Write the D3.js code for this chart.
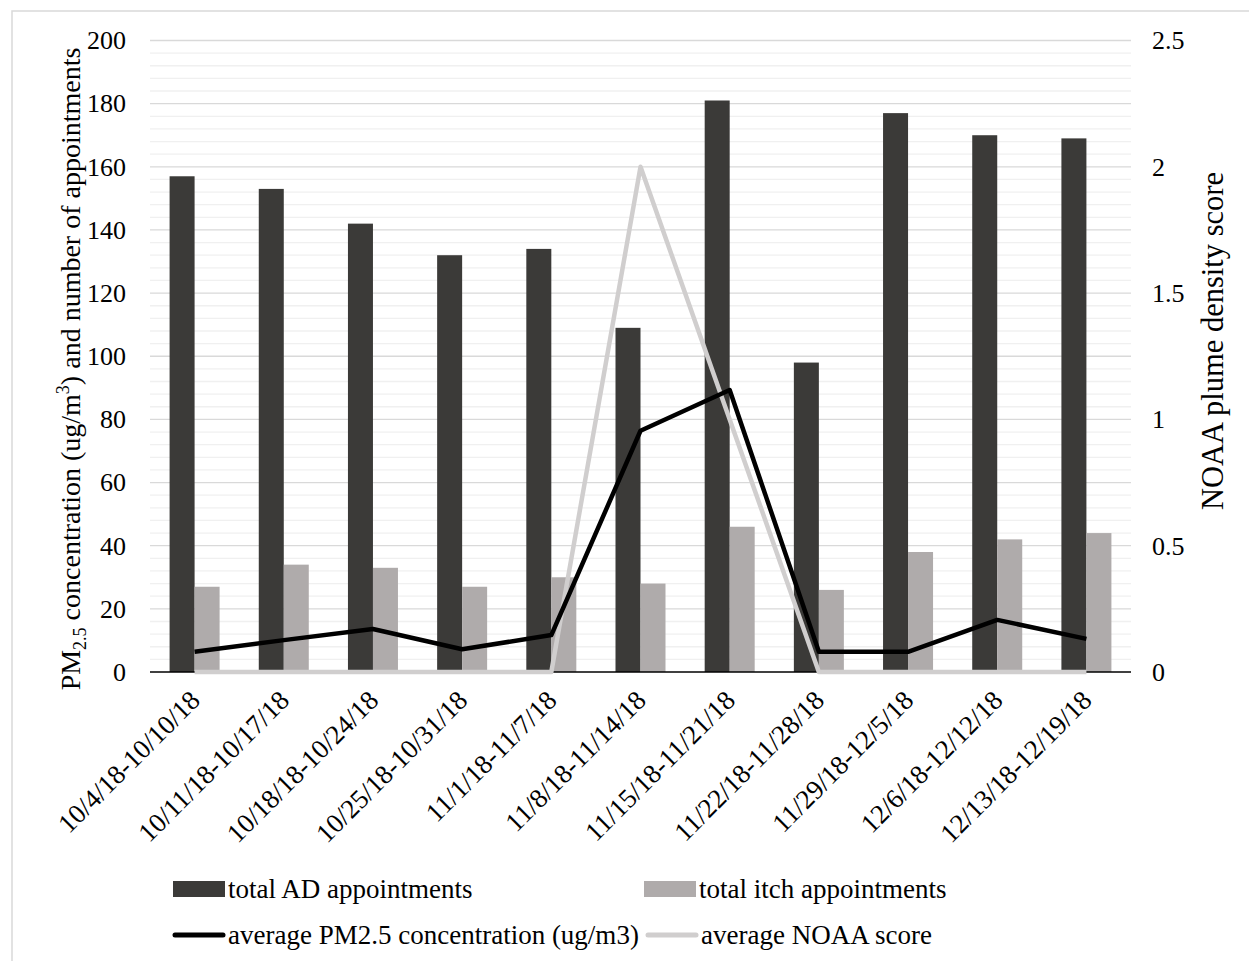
<!DOCTYPE html>
<html>
<head>
<meta charset="utf-8">
<script src="https://cdn.jsdelivr.net/npm/d3@7"></script>
<style>
  html, body { margin: 0; padding: 0; background: #fff; }
  svg { display: block; font-family: "Liberation Serif", "Times New Roman", serif; }
</style>
</head>
<body>
<svg id="chart" width="1249" height="961"></svg>
<script>
// Weekly periods, autumn 2018
const weeks = [
  "10/4/18-10/10/18", "10/11/18-10/17/18", "10/18/18-10/24/18", "10/25/18-10/31/18",
  "11/1/18-11/7/18", "11/8/18-11/14/18", "11/15/18-11/21/18", "11/22/18-11/28/18",
  "11/29/18-12/5/18", "12/6/18-12/12/18", "12/13/18-12/19/18"
];
const adAppointments   = [157, 153, 142, 132, 134, 109, 181, 98, 177, 170, 169];
const itchAppointments = [27, 34, 33, 27, 30, 28, 46, 26, 38, 42, 44];
const pm25             = [6.4, 10.1, 13.6, 7.2, 11.7, 76.4, 89.3, 6.4, 6.4, 16.5, 10.5];
const noaaScore        = [0, 0, 0, 0, 0, 2, 1, 0, 0, 0, 0];

const leftTicks  = [0, 20, 40, 60, 80, 100, 120, 140, 160, 180, 200];
const rightTicks = [0, 0.5, 1, 1.5, 2, 2.5];

const svg = d3.select("#chart");
const plot = { left: 150, right: 1131, top: 40.5, bottom: 672 };

const x = d3.scaleBand().domain(weeks).range([plot.left, plot.right]).padding(0);
const yL = d3.scaleLinear().domain([0, 200]).range([plot.bottom, plot.top]);
const yR = d3.scaleLinear().domain([0, 2.5]).range([plot.bottom, plot.top]);
const cx = d => x(d) + x.bandwidth() / 2;
const barW = 25;

// outer frame
svg.append("path")
  .attr("d", `M12,975 L12,11 L1260,11`)
  .attr("fill", "none").attr("stroke", "#d9d9d9").attr("stroke-width", 1.5);

// gridlines: minor every 4, major every 20
const minor = d3.range(4, 200, 4).filter(v => v % 20 !== 0);
svg.append("g").selectAll("line").data(minor).join("line")
  .attr("x1", plot.left).attr("x2", plot.right)
  .attr("y1", d => yL(d)).attr("y2", d => yL(d))
  .attr("stroke", "#f0f0f0").attr("stroke-width", 1.3);
svg.append("g").selectAll("line").data(leftTicks.filter(v => v > 0)).join("line")
  .attr("x1", plot.left).attr("x2", plot.right)
  .attr("y1", d => yL(d)).attr("y2", d => yL(d))
  .attr("stroke", "#d9d9d9").attr("stroke-width", 1.3);

// bars
svg.append("g").selectAll("rect").data(weeks).join("rect")
  .attr("x", d => cx(d) - barW).attr("width", barW)
  .attr("y", (d, i) => yL(adAppointments[i]))
  .attr("height", (d, i) => yL(0) - yL(adAppointments[i]))
  .attr("fill", "#3b3a38");
svg.append("g").selectAll("rect").data(weeks).join("rect")
  .attr("x", d => cx(d)).attr("width", barW)
  .attr("y", (d, i) => yL(itchAppointments[i]))
  .attr("height", (d, i) => yL(0) - yL(itchAppointments[i]))
  .attr("fill", "#afabab");

// x axis baseline
svg.append("line")
  .attr("x1", plot.left).attr("x2", plot.right)
  .attr("y1", plot.bottom).attr("y2", plot.bottom)
  .attr("stroke", "#000").attr("stroke-width", 1.5);

// lines
const noaaLine = d3.line().x((d, i) => cx(weeks[i])).y(d => yR(d));
const pmLine = d3.line().x((d, i) => cx(weeks[i])).y(d => yL(d));
svg.append("path").datum(noaaScore).attr("d", noaaLine)
  .attr("fill", "none").attr("stroke", "#d0cece").attr("stroke-width", 4.5)
  .attr("stroke-linejoin", "round");
svg.append("path").datum(pm25).attr("d", pmLine)
  .attr("fill", "none").attr("stroke", "#000").attr("stroke-width", 4.5)
  .attr("stroke-linejoin", "round");

// left axis labels
const leftAxis = d3.axisLeft(yL).tickValues(leftTicks).tickSize(0).tickPadding(0);
const gL = svg.append("g").attr("transform", `translate(126,0)`).call(leftAxis);
gL.select(".domain").remove();
gL.selectAll("text").attr("font-size", 26).attr("font-family", "Liberation Serif").attr("fill", "#000");

// right axis labels
const rightAxis = d3.axisRight(yR).tickValues(rightTicks).tickSize(0).tickPadding(0).tickFormat(d3.format("~g"));
const gR = svg.append("g").attr("transform", `translate(1152,0)`).call(rightAxis);
gR.select(".domain").remove();
gR.selectAll("text").attr("font-size", 26).attr("font-family", "Liberation Serif").attr("fill", "#000");

// category labels, rotated
svg.append("g").selectAll("text").data(weeks).join("text")
  .attr("transform", d => `translate(${cx(d) + 7},702) rotate(-45)`)
  .attr("text-anchor", "end")
  .attr("font-size", 27).attr("fill", "#000")
  .text(d => d);

// left axis title with sub/superscripts
const lt = svg.append("text")
  .attr("transform", "translate(80,369) rotate(-90)")
  .attr("text-anchor", "middle").attr("font-size", 28).attr("fill", "#000");
lt.append("tspan").text("PM");
lt.append("tspan").attr("font-size", 18).attr("dy", 6).text("2.5");
lt.append("tspan").attr("dy", -6).text(" concentration (ug/m");
lt.append("tspan").attr("font-size", 18).attr("dy", -11).text("3");
lt.append("tspan").attr("dy", 11).text(") and number of appointments");

// right axis title
svg.append("text")
  .attr("transform", "translate(1223,341) rotate(-90)")
  .attr("text-anchor", "middle").attr("font-size", 30.5).attr("fill", "#000")
  .text("NOAA plume density score");

// legend
const legend = svg.append("g").attr("font-size", 27).attr("fill", "#000");
const legendItems = [
  { label: "total AD appointments", kind: "rect", color: "#3b3a38", x: 173, y: 889 },
  { label: "total itch appointments", kind: "rect", color: "#afabab", x: 644, y: 889 },
  { label: "average PM2.5 concentration (ug/m3)", kind: "line", color: "#000", x: 173, y: 935 },
  { label: "average NOAA score", kind: "line", color: "#d0cece", x: 646, y: 935 }
];
legendItems.forEach(it => {
  if (it.kind === "rect") {
    legend.append("rect").attr("x", it.x).attr("y", it.y - 8).attr("width", 52).attr("height", 16).attr("fill", it.color);
  } else {
    legend.append("line").attr("x1", it.x + 2).attr("x2", it.x + 50).attr("y1", it.y).attr("y2", it.y)
      .attr("stroke", it.color).attr("stroke-width", 5).attr("stroke-linecap", "round");
  }
  legend.append("text").attr("x", it.x + 55).attr("y", it.y + 9).text(it.label);
});
</script>
</body>
</html>
